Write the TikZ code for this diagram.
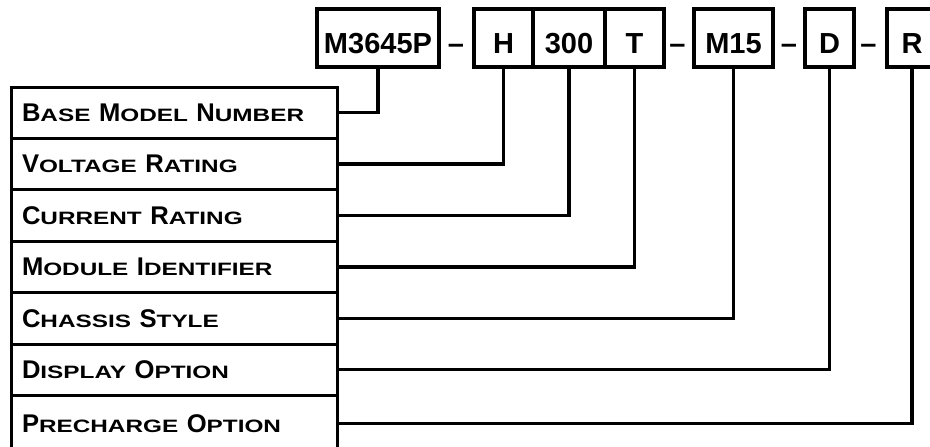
\documentclass[tikz,border=0pt]{standalone}
\usepackage{fontspec}
\setmainfont{Liberation Sans}
\usepackage{graphicx}
\usetikzlibrary{positioning}
\newcommand{\scword}[2]{#1\scalebox{0.95}[0.7]{#2}}
\tikzset{
  codebox/.style={draw, line width=3.2pt, inner sep=0pt, outer sep=0pt, minimum height=58pt, text height=30pt, text depth=0pt, font=\bfseries\fontsize{29}{34}\selectfont},
  codedash/.style={inner sep=0pt, text height=30pt, text depth=0pt, font=\bfseries\fontsize{29}{34}\selectfont},
  rowbox/.style={draw, line width=3pt, anchor=north west, outer sep=0pt, inner xsep=11pt, inner ysep=0pt, text width=304pt, align=left, font=\bfseries\fontsize{25.6}{30}\selectfont},
  link/.style={line width=3.3pt}
}
\begin{document}
\begin{tikzpicture}[x=1pt, y=-1pt]
\useasboundingbox (0,0) rectangle (930,447);
\clip (0,0) rectangle (930,447);
% part number
\node[codebox, minimum width=122pt] (pBase) at (378,38) {M3645P};
\node[codedash] (d1) at (456,38) {--};
\node[codebox, minimum width=59pt] (pVolt) at (503.5,38) {H};
\node[codebox, minimum width=72pt, right=0pt of pVolt] (pCurr) {300};
\node[codebox, minimum width=59pt, right=0pt of pCurr] (pMod) {T};
\node[codedash] (d2) at (677.5,38) {--};
\node[codebox, minimum width=79pt] (pChas) at (733.5,38) {M15};
\node[codedash] (d3) at (789,38) {--};
\node[codebox, minimum width=49pt] (pDisp) at (829.5,38) {D};
\node[codedash] (d4) at (868.5,38) {--};
\node[codebox, minimum width=50pt] (pPre) at (912,38) {R};
% table
\foreach \nm/\y/\h/\txt in {
  rBase/87/51.4/{\scword{B}{ASE} \scword{M}{ODEL} \scword{N}{UMBER}},
  rVolt/138.4/51.4/{\scword{V}{OLTAGE} \scword{R}{ATING}},
  rCurr/189.8/51.4/{\scword{C}{URRENT} \scword{R}{ATING}},
  rMod/241.2/51.4/{\scword{M}{ODULE} \scword{I}{DENTIFIER}},
  rChas/292.6/51.4/{\scword{C}{HASSIS} \scword{S}{TYLE}},
  rDisp/344/51.4/{\scword{D}{ISPLAY} \scword{O}{PTION}},
  rPre/395.4/56/{\scword{P}{RECHARGE} \scword{O}{PTION}}}
  \node[rowbox, minimum height=\h pt] (\nm) at (11,\y) {\txt};
% connectors
\foreach \a/\b in {pBase/rBase, pVolt/rVolt, pCurr/rCurr, pMod/rMod, pChas/rChas, pDisp/rDisp, pPre/rPre}
  \draw[link] (\a.south) |- (\b.east);
\end{tikzpicture}
\end{document}
